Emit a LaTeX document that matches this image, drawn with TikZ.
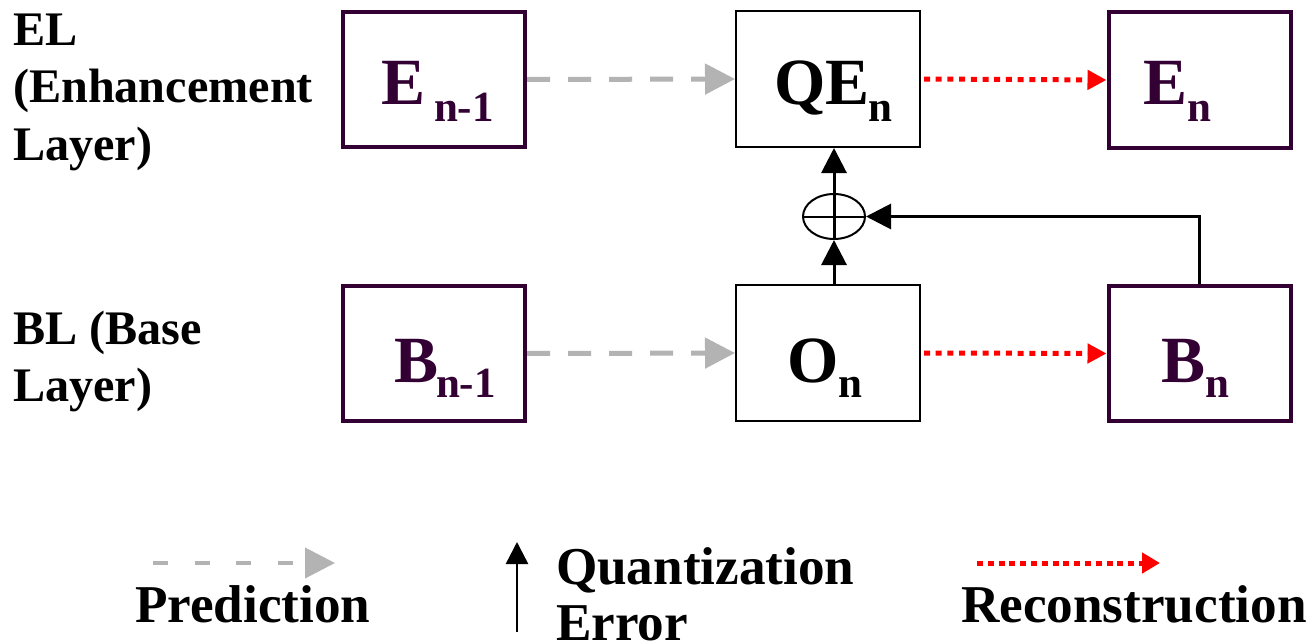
\documentclass[tikz,border=0pt]{standalone}
\usepackage{fontspec}
\setmainfont{Liberation Serif}
\usetikzlibrary{arrows.meta,shapes.geometric}
\definecolor{plum}{HTML}{330033}
\definecolor{predgray}{HTML}{B3B3B3}
\newcommand\BoxBig{\fontsize{66bp}{66bp}\selectfont\bfseries}
\newcommand\BoxSub{\fontsize{43bp}{43bp}\selectfont\bfseries}
\newcommand\SideFont{\fontsize{48.2bp}{57bp}\selectfont\bfseries}
\newcommand\KeyFont{\fontsize{53.2bp}{58bp}\selectfont\bfseries}
\tikzset{
  layerbox/.style={draw=plum, line width=4bp, minimum width=182bp, minimum height=135bp, inner sep=0pt},
  stagebox/.style={draw=black, line width=2bp, minimum width=184bp, minimum height=136bp, inner sep=0pt},
  txt/.style={anchor=base west, inner sep=0pt, outer sep=0pt},
  predarrow/.style={draw=predgray, line width=5bp, dash pattern=on 23bp off 18bp,
    -{Triangle[length=30bp,width=30bp]}},
  recarrow/.style={draw=red, line width=5bp, dash pattern=on 6bp off 5.7bp,
    -{Triangle[length=19bp,width=19bp]}},
  qarrow/.style={draw=black, line width=3bp, -{Triangle[length=25bp,width=25bp]}},
}
\begin{document}
\begin{tikzpicture}[x=1bp, y=-1bp]
\useasboundingbox[fill=white] (0,0) rectangle (1313,641);

% layer labels
\node[txt] (elA) at (13,46) {\SideFont EL};
\node[txt] (elB) at (13,103) {\SideFont (Enhancement};
\node[txt] (elC) at (13,161) {\SideFont Layer)};
\node[txt] (blA) at (13,344) {\SideFont BL (Base};
\node[txt] (blB) at (13,401) {\SideFont Layer)};

% boxes
\node[layerbox] (Eprev) at (434,79.5) {};
\node[stagebox] (QE) at (828,79) {};
\node[layerbox] (En) at (1199.5,80) {};
\node[layerbox] (Bprev) at (434,353.5) {};
\node[stagebox] (On) at (828,353) {};
\node[layerbox] (Bn) at (1199.5,353.5) {};

% box contents
\node[txt, text=plum] (EprevA) at (381,105) {\BoxBig E};
\node[txt, text=plum] (EprevB) at (434,122) {\BoxSub n-1};
\node[txt] (QEA) at (774,105) {\BoxBig QE};
\node[txt] (QEB) at (868,122) {\BoxSub n};
\node[txt, text=plum] (EnA) at (1143,105) {\BoxBig E};
\node[txt, text=plum] (EnB) at (1187,122) {\BoxSub n};
\node[txt, text=plum] (BprevA) at (394,382) {\BoxBig B};
\node[txt, text=plum] (BprevB) at (436,397) {\BoxSub n-1};
\node[txt] (OnA) at (787,382) {\BoxBig O};
\node[txt] (OnB) at (838,397) {\BoxSub n};
\node[txt, text=plum] (BnA) at (1161,382) {\BoxBig B};
\node[txt, text=plum] (BnB) at (1205,397) {\BoxSub n};

% adder
\node[draw=black, line width=2bp, ellipse, minimum width=62bp, minimum height=45bp, inner sep=0pt]
  (sum) at (834,216.5) {};
\draw[line width=2bp] (sum.west) -- (sum.east);
\draw[line width=3bp] (sum.north) -- (sum.south);

% connectors
\draw[predarrow] (Eprev.east) -- (QE.west);
\draw[predarrow] (Bprev.east) -- (On.west);
\draw[recarrow, shorten <=3bp] (QE.east) -- (En.west);
\draw[recarrow, shorten <=3bp] (On.east) -- (Bn.west);
\draw[qarrow] (On.north -| sum.south) -- (sum.south);
\draw[qarrow] (sum.north) -- (QE.south -| sum.north);
\draw[qarrow] (Bn.north) |- (sum.east);

% key
\coordinate (kpA) at (153,563);
\coordinate (kpB) at (335,563);
\draw[draw=predgray, line width=4bp, dash pattern=on 15bp off 26.6bp,
  -{Triangle[length=30bp,width=30bp]}] (kpA) -- (kpB);
\node[txt] (kpT) at (135,622) {\KeyFont Prediction};

\coordinate (kqA) at (517,632);
\coordinate (kqB) at (517,542);
\draw[line width=2.5bp, -{Triangle[length=22bp,width=22bp]}] (kqA) -- (kqB);
\node[txt] (kqT) at (556,584) {\KeyFont Quantization};
\node[txt] (kqU) at (556,640) {\KeyFont Error};

\coordinate (krA) at (977,563);
\coordinate (krB) at (1160,563);
\draw[draw=red, line width=5bp, dash pattern=on 6bp off 4.8bp,
  -{Triangle[length=18bp,width=20bp]}] (krA) -- (krB);
\node[txt] (krT) at (961,622) {\KeyFont Reconstruction};
\end{tikzpicture}
\end{document}
